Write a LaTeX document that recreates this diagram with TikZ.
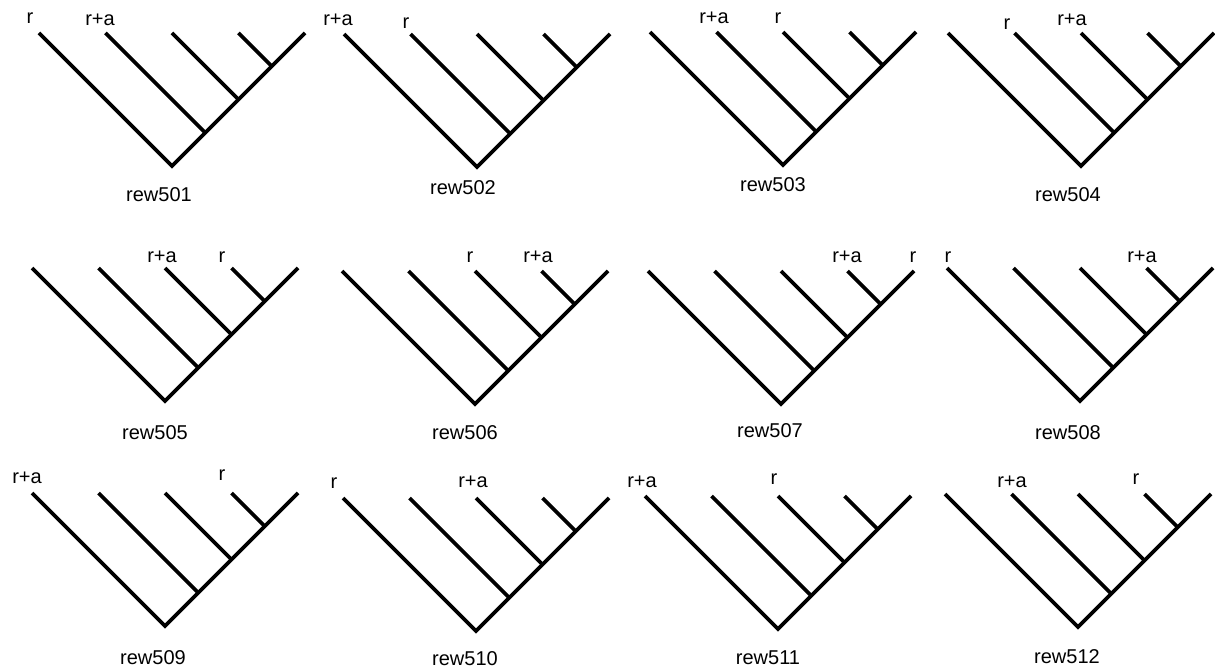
\documentclass[tikz,border=0pt]{standalone}
\usepackage{fontspec}
\setmainfont{Liberation Sans}
\begin{document}
\begin{tikzpicture}[x=1pt,y=-1pt,
  branch/.style={line width=3.6pt,black},
  lab/.style={anchor=base,inner sep=0pt,font=\fontsize{20}{24}\selectfont},
  treename/.style={anchor=base,inner sep=0pt,font=\fontsize{20}{24}\selectfont}]
\useasboundingbox (0,0) rectangle (1215,668);
\newcommand\drawtree[3]{%
  \coordinate (#1-root) at (#2,#3);
  \coordinate (#1-l0) at ({#2-133},{#3-133});
  \coordinate (#1-l1) at ({#2-66.5},{#3-133});
  \coordinate (#1-l2) at ({#2},{#3-133});
  \coordinate (#1-l3) at ({#2+66.5},{#3-133});
  \coordinate (#1-l4) at ({#2+133},{#3-133});
  \coordinate (#1-n1) at ({#2+33.25},{#3-33.25});
  \coordinate (#1-n2) at ({#2+66.5},{#3-66.5});
  \coordinate (#1-n3) at ({#2+99.75},{#3-99.75});
  \draw[branch] (#1-l0) -- (#1-root) -- (#1-l4);
  \draw[branch] (#1-l1) -- (#1-n1);
  \draw[branch] (#1-l2) -- (#1-n2);
  \draw[branch] (#1-l3) -- (#1-n3);
}
% row 1
\drawtree{t1}{172}{166}
\node[lab] (t1-r) at (30,23.5) {r};
\node[lab] (t1-ra) at (100,25.5) {r+a};
\node[treename] (t1-c) at (159,202) {rew501};

\drawtree{t2}{477}{167}
\node[lab] (t2-ra) at (338,25.5) {r+a};
\node[lab] (t2-r) at (406,28.5) {r};
\node[treename] (t2-c) at (463,195) {rew502};

\drawtree{t3}{783}{165}
\node[lab] (t3-ra) at (714,23.5) {r+a};
\node[lab] (t3-r) at (778,23.5) {r};
\node[treename] (t3-c) at (773,192) {rew503};

\drawtree{t4}{1081}{166}
\node[lab] (t4-r) at (1007,29.5) {r};
\node[lab] (t4-ra) at (1072,25.5) {r+a};
\node[treename] (t4-c) at (1068,202) {rew504};

% row 2
\drawtree{t5}{165}{401}
\node[lab] (t5-ra) at (162,262.5) {r+a};
\node[lab] (t5-r) at (222,262.5) {r};
\node[treename] (t5-c) at (155,439) {rew505};

\drawtree{t6}{475}{404}
\node[lab] (t6-r) at (470,262.5) {r};
\node[lab] (t6-ra) at (538,262.5) {r+a};
\node[treename] (t6-c) at (465,439) {rew506};

\drawtree{t7}{781}{404}
\node[lab] (t7-ra) at (847,262.5) {r+a};
\node[lab] (t7-r) at (913,262.5) {r};
\node[treename] (t7-c) at (770,437) {rew507};

\drawtree{t8}{1080}{401}
\node[lab] (t8-r) at (948,262.5) {r};
\node[lab] (t8-ra) at (1142,262.5) {r+a};
\node[treename] (t8-c) at (1068,439) {rew508};

% row 3
\drawtree{t9}{165}{626}
\node[lab] (t9-ra) at (27,483.5) {r+a};
\node[lab] (t9-r) at (222,480.5) {r};
\node[treename] (t9-c) at (153,664) {rew509};

\drawtree{t10}{476}{631}
\node[lab] (t10-r) at (334,488.5) {r};
\node[lab] (t10-ra) at (473,487.5) {r+a};
\node[treename] (t10-c) at (465,665) {rew510};

\drawtree{t11}{778}{629}
\node[lab] (t11-ra) at (642,487.5) {r+a};
\node[lab] (t11-r) at (774,484.5) {r};
\node[treename] (t11-c) at (768,664) {rew511};

\drawtree{t12}{1078}{627}
\node[lab] (t12-ra) at (1012,487.5) {r+a};
\node[lab] (t12-r) at (1136,484.5) {r};
\node[treename] (t12-c) at (1067,663) {rew512};
\end{tikzpicture}
\end{document}
